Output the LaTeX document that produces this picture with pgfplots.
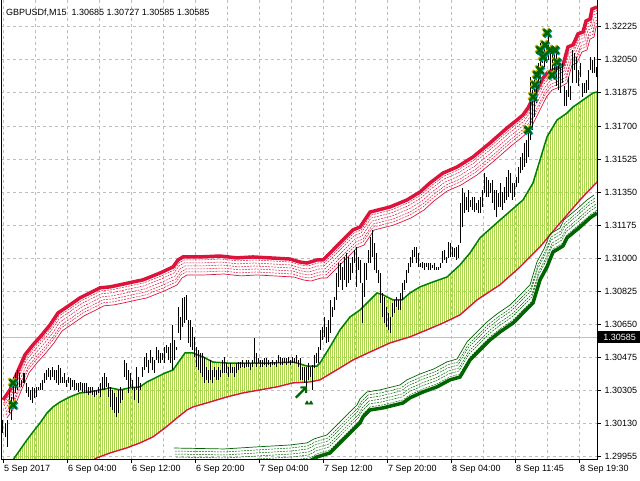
\documentclass[border=0pt]{standalone}
\usepackage{pgfplots}
\pgfplotsset{compat=1.18}
\usepackage{pgfplotstable}
\usetikzlibrary{patterns.meta}
\usepackage{fontspec}
\setmainfont{Liberation Sans}
\newfontfamily\dejavu{DejaVu Sans}
\definecolor{crim}{RGB}{220,20,60}
\definecolor{ygreen}{RGB}{154,205,50}
\definecolor{mgreen}{RGB}{0,128,0}
\definecolor{dgreen}{RGB}{0,100,0}
\definecolor{gridgray}{RGB}{190,190,190}
\definecolor{bidgray}{RGB}{192,192,192}

\pgfplotstableread{
x lo hi
3 1.30080 1.30148
6 1.30059 1.30132
8 1.30006 1.30148
10 1.30185 1.30307
12 1.30148 1.30270
14 1.30217 1.30375
16 1.30291 1.30396
18 1.30307 1.30412
20 1.30323 1.30396
22 1.30323 1.30360
24 1.30344 1.30396
26 1.30291 1.30344
28 1.30270 1.30323
30 1.30254 1.30307
32 1.30238 1.30323
34 1.30265 1.30318
36 1.30270 1.30323
38 1.30307 1.30323
40 1.30307 1.30344
42 1.30307 1.30360
44 1.30344 1.30396
46 1.30360 1.30412
48 1.30375 1.30423
50 1.30360 1.30412
52 1.30375 1.30428
54 1.30360 1.30412
56 1.30344 1.30412
58 1.30334 1.30439
60 1.30344 1.30423
62 1.30344 1.30375
64 1.30344 1.30396
66 1.30323 1.30360
68 1.30344 1.30375
70 1.30307 1.30370
72 1.30323 1.30360
74 1.30307 1.30360
76 1.30307 1.30344
78 1.30296 1.30344
80 1.30307 1.30349
82 1.30296 1.30344
84 1.30291 1.30344
86 1.30291 1.30344
88 1.30281 1.30323
90 1.30291 1.30323
92 1.30281 1.30323
94 1.30270 1.30307
96 1.30281 1.30307
98 1.30291 1.30323
100 1.30270 1.30344
102 1.30307 1.30375
104 1.30307 1.30396
106 1.30323 1.30375
108 1.30270 1.30344
110 1.30217 1.30323
112 1.30201 1.30307
114 1.30185 1.30291
116 1.30164 1.30270
118 1.30185 1.30307
120 1.30238 1.30323
122 1.30254 1.30307
124 1.30375 1.30465
126 1.30360 1.30449
128 1.30291 1.30412
130 1.30323 1.30396
132 1.30307 1.30360
134 1.30254 1.30323
136 1.30307 1.30428
138 1.30238 1.30375
140 1.30307 1.30344
142 1.30375 1.30428
144 1.30412 1.30481
146 1.30428 1.30502
148 1.30396 1.30465
150 1.30449 1.30518
152 1.30412 1.30481
154 1.30396 1.30465
156 1.30465 1.30534
158 1.30449 1.30518
160 1.30449 1.30502
162 1.30465 1.30502
164 1.30449 1.30534
166 1.30502 1.30545
168 1.30465 1.30534
170 1.30449 1.30555
172 1.30412 1.30650
174 1.30465 1.30571
176 1.30518 1.30534
178 1.30608 1.30745
180 1.30571 1.30692
182 1.30639 1.30793
184 1.30660 1.30798
186 1.30676 1.30809
188 1.30555 1.30676
190 1.30534 1.30676
192 1.30518 1.30639
194 1.30481 1.30587
196 1.30428 1.30534
198 1.30412 1.30518
200 1.30396 1.30502
202 1.30375 1.30502
204 1.30344 1.30481
206 1.30360 1.30428
208 1.30344 1.30412
210 1.30360 1.30465
212 1.30344 1.30412
214 1.30375 1.30428
216 1.30360 1.30412
218 1.30360 1.30428
220 1.30375 1.30412
222 1.30396 1.30465
224 1.30396 1.30481
226 1.30396 1.30449
228 1.30375 1.30428
230 1.30396 1.30449
232 1.30396 1.30428
234 1.30375 1.30428
236 1.30396 1.30449
238 1.30412 1.30454
240 1.30423 1.30454
242 1.30428 1.30465
244 1.30423 1.30449
246 1.30428 1.30465
248 1.30428 1.30465
250 1.30412 1.30449
252 1.30428 1.30465
254 1.30449 1.30582
256 1.30428 1.30502
258 1.30449 1.30476
260 1.30428 1.30465
262 1.30428 1.30465
264 1.30439 1.30476
266 1.30428 1.30476
268 1.30439 1.30465
270 1.30428 1.30454
272 1.30439 1.30465
274 1.30439 1.30454
276 1.30428 1.30465
278 1.30449 1.30492
280 1.30439 1.30481
282 1.30439 1.30476
284 1.30449 1.30476
286 1.30439 1.30476
288 1.30449 1.30481
290 1.30439 1.30465
292 1.30449 1.30481
294 1.30449 1.30476
296 1.30449 1.30492
298 1.30428 1.30465
300 1.30360 1.30476
302 1.30360 1.30428
304 1.30344 1.30428
306 1.30323 1.30428
308 1.30360 1.30449
310 1.30375 1.30428
312 1.30307 1.30439
314 1.30423 1.30492
316 1.30449 1.30502
318 1.30449 1.30534
320 1.30518 1.30624
322 1.30571 1.30639
324 1.30587 1.30692
326 1.30555 1.30639
328 1.30560 1.30676
330 1.30608 1.30782
332 1.30692 1.30745
334 1.30729 1.30798
336 1.30782 1.30924
338 1.30851 1.30977
340 1.30888 1.30977
342 1.30835 1.30956
344 1.30888 1.31009
346 1.30851 1.31030
348 1.30872 1.31009
350 1.30888 1.30977
352 1.30924 1.31009
354 1.30977 1.31046
356 1.30851 1.31062
358 1.30940 1.31009
360 1.30872 1.30993
362 1.30660 1.30872
364 1.30798 1.30977
366 1.30888 1.30977
368 1.30977 1.31046
370 1.30977 1.31115
372 1.31009 1.31152
374 1.30940 1.31083
376 1.30924 1.31030
378 1.30872 1.30940
380 1.30766 1.30924
382 1.30692 1.30819
384 1.30660 1.30798
386 1.30639 1.30745
388 1.30624 1.30713
390 1.30608 1.30692
392 1.30692 1.30766
394 1.30713 1.30782
396 1.30745 1.30798
398 1.30729 1.30782
400 1.30729 1.30819
402 1.30782 1.30872
404 1.30835 1.30888
406 1.30872 1.30940
408 1.30924 1.30977
410 1.30956 1.31009
412 1.30977 1.31046
414 1.31009 1.31062
416 1.30977 1.31062
418 1.30956 1.31030
420 1.30956 1.30977
422 1.30951 1.30982
424 1.30940 1.30977
426 1.30956 1.30977
428 1.30940 1.30977
430 1.30940 1.30977
432 1.30951 1.30967
434 1.30940 1.30977
436 1.30940 1.30956
438 1.30940 1.30956
440 1.30951 1.30977
442 1.30977 1.31041
444 1.30993 1.31046
446 1.30977 1.31009
448 1.31004 1.31088
450 1.31009 1.31083
452 1.31009 1.31062
454 1.31009 1.31057
456 1.30993 1.31062
458 1.31004 1.31072
460 1.31083 1.31294
462 1.31167 1.31373
464 1.31241 1.31347
466 1.31257 1.31326
468 1.31246 1.31363
470 1.31273 1.31310
472 1.31257 1.31326
474 1.31246 1.31326
476 1.31257 1.31294
478 1.31241 1.31310
480 1.31241 1.31326
482 1.31273 1.31363
484 1.31347 1.31452
486 1.31326 1.31432
488 1.31326 1.31416
490 1.31347 1.31400
492 1.31294 1.31416
494 1.31257 1.31363
496 1.31220 1.31363
498 1.31273 1.31347
500 1.31273 1.31400
502 1.31257 1.31352
504 1.31294 1.31379
506 1.31310 1.31432
508 1.31326 1.31468
510 1.31347 1.31452
512 1.31310 1.31400
514 1.31326 1.31400
516 1.31379 1.31432
518 1.31400 1.31484
520 1.31452 1.31537
522 1.31468 1.31558
524 1.31484 1.31610
526 1.31505 1.31627
528 1.31537 1.31680
530 1.31627 1.31959
532 1.31680 1.31891
534 1.31748 1.31944
536 1.31822 1.31996
538 1.31891 1.32033
540 1.31928 1.32139
542 1.32033 1.32139
544 1.32012 1.32139
546 1.32033 1.32118
548 1.32049 1.32208
550 1.31996 1.32102
552 1.31980 1.32102
554 1.31959 1.32086
556 1.31912 1.32102
558 1.31891 1.32049
560 1.31875 1.32033
562 1.31928 1.32033
564 1.31806 1.31912
566 1.31806 1.31891
568 1.31854 1.31959
570 1.31838 1.31912
572 1.31928 1.32102
574 1.31996 1.32086
576 1.31928 1.32065
578 1.31912 1.31996
580 1.31959 1.32033
582 1.31854 1.31928
584 1.31875 1.31928
586 1.31875 1.31944
588 1.31891 1.31996
590 1.31996 1.32065
592 1.31980 1.32049
594 1.31980 1.32065
596 1.31959 1.32012
}\bars

\pgfplotstableread{
x y
3 1.30254
10 1.30307
17 1.30396
25 1.30492
33 1.30545
42 1.30598
50 1.30650
58 1.30713
70 1.30756
80 1.30793
90 1.30819
100 1.30846
110 1.30851
120 1.30862
133 1.30877
143 1.30888
160 1.30924
173 1.30956
178 1.30993
183 1.31009
200 1.31009
220 1.31014
237 1.31004
253 1.31009
270 1.31004
290 1.30998
300 1.30982
307 1.30977
317 1.30993
323 1.30993
330 1.31030
340 1.31083
353 1.31152
360 1.31167
370 1.31246
390 1.31273
407 1.31310
420 1.31352
430 1.31400
443 1.31452
457 1.31484
473 1.31537
490 1.31611
507 1.31690
517 1.31732
523 1.31759
528 1.31796
533 1.31849
538 1.31902
543 1.31954
548 1.31985
553 1.31996
558 1.32007
563 1.32023
568 1.32118
573 1.32129
578 1.32187
583 1.32197
586 1.32255
590 1.32265
592 1.32318
597 1.32329
}\upbandtab

\pgfplotstableread{
x y
177 1.29905
227 1.29900
260 1.29911
293 1.29921
310 1.29932
317 1.29953
330 1.29974
343 1.30043
353 1.30096
360 1.30132
363 1.30164
370 1.30201
383 1.30212
403 1.30238
410 1.30265
423 1.30296
437 1.30323
450 1.30360
460 1.30375
470 1.30465
477 1.30502
483 1.30534
490 1.30571
500 1.30613
513 1.30660
523 1.30713
533 1.30766
540 1.30888
547 1.30956
553 1.31035
563 1.31067
567 1.31110
580 1.31167
590 1.31215
597 1.31241
}\lowbandtab

\pgfplotstableread{
x y
13 1.29937
20 1.29990
27 1.30043
33 1.30085
40 1.30132
47 1.30185
53 1.30217
60 1.30243
70 1.30270
80 1.30291
90 1.30296
100 1.30307
110 1.30318
120 1.30307
130 1.30318
140 1.30323
147 1.30349
157 1.30375
165 1.30396
173 1.30412
180 1.30465
185 1.30502
193 1.30502
203 1.30481
213 1.30454
227 1.30449
247 1.30449
270 1.30449
293 1.30454
300 1.30444
307 1.30433
317 1.30433
320 1.30449
330 1.30534
340 1.30624
350 1.30692
360 1.30729
370 1.30782
377 1.30819
383 1.30809
393 1.30782
402 1.30782
410 1.30819
420 1.30851
433 1.30877
447 1.30903
460 1.30967
470 1.31030
480 1.31110
500 1.31204
523 1.31310
533 1.31400
540 1.31521
547 1.31643
557 1.31732
567 1.31769
573 1.31801
583 1.31838
593 1.31875
597 1.31880
}\gmatab

\pgfplotstableread{
x y
13 1.29752
60 1.29847
97 1.29948
110 1.29974
127 1.30001
140 1.30027
153 1.30059
165 1.30106
177 1.30159
187 1.30201
193 1.30217
210 1.30243
227 1.30270
243 1.30291
260 1.30307
277 1.30323
293 1.30344
310 1.30349
320 1.30360
340 1.30423
353 1.30465
370 1.30507
390 1.30555
410 1.30587
427 1.30624
443 1.30660
460 1.30703
477 1.30782
500 1.30862
520 1.30956
540 1.31062
560 1.31188
580 1.31310
597 1.31405
}\rmatab

% band between the two averages: upper edge left to right, lower edge right to left
\pgfplotstableread{
x y
13 1.29937
20 1.29990
27 1.30043
33 1.30085
40 1.30132
47 1.30185
53 1.30217
60 1.30243
70 1.30270
80 1.30291
90 1.30296
100 1.30307
110 1.30318
120 1.30307
130 1.30318
140 1.30323
147 1.30349
157 1.30375
165 1.30396
173 1.30412
180 1.30465
185 1.30502
193 1.30502
203 1.30481
213 1.30454
227 1.30449
247 1.30449
270 1.30449
293 1.30454
300 1.30444
307 1.30433
317 1.30433
320 1.30449
330 1.30534
340 1.30624
350 1.30692
360 1.30729
370 1.30782
377 1.30819
383 1.30809
393 1.30782
402 1.30782
410 1.30819
420 1.30851
433 1.30877
447 1.30903
460 1.30967
470 1.31030
480 1.31110
500 1.31204
523 1.31310
533 1.31400
540 1.31521
547 1.31643
557 1.31732
567 1.31769
573 1.31801
583 1.31838
593 1.31875
597 1.31880
597 1.31405
580 1.31310
560 1.31188
540 1.31062
520 1.30956
500 1.30862
477 1.30782
460 1.30703
443 1.30660
427 1.30624
410 1.30587
390 1.30555
370 1.30507
353 1.30465
340 1.30423
320 1.30360
310 1.30349
293 1.30344
277 1.30323
260 1.30307
243 1.30291
227 1.30270
210 1.30243
193 1.30217
187 1.30201
177 1.30159
165 1.30106
153 1.30059
140 1.30027
127 1.30001
110 1.29974
97 1.29948
60 1.29847
13 1.29752
}\polytab

\pgfplotstableread{
x y
13 1.30344
13 1.30228
528 1.31680
533 1.31854
535 1.31918
537 1.31970
540 1.31996
543 1.32065
540 1.32102
545 1.32129
547 1.32192
550 1.32102
552 1.31970
555 1.32102
557 1.32038
}\xmarkstab

\begin{document}
\begin{tikzpicture}
\useasboundingbox (0,0) rectangle (640pt,-480pt);
\begin{axis}[
  name=ax,
  at={(1pt,0pt)}, anchor=north west,
  scale only axis, width=596pt, height=459pt,
  xmin=1, xmax=597, ymin=1.29942, ymax=1.32366,
  axis line style={draw=none},
  tick align=outside,
  major tick length=4pt,
  minor tick length=0pt,
  tick style={black, line width=0.8pt},
  xtick pos=bottom, ytick pos=right,
  yticklabel pos=right,
  xtick={3,67,131,195,259,323,387,451,515,579},
  xticklabels={5 Sep 2017,6 Sep 04:00,6 Sep 12:00,6 Sep 20:00,7 Sep 04:00,7 Sep 12:00,7 Sep 20:00,8 Sep 04:00,8 Sep 11:45,8 Sep 19:30},
  minor xtick={35,99,163,227,291,355,419,483,547},
  ytick={1.32225,1.32050,1.31876,1.31701,1.31526,1.31352,1.31177,1.31002,1.30828,1.30653,1.30478,1.30304,1.30129,1.29954},
  yticklabels={\mbox{1.32225},\mbox{1.32050},\mbox{1.31875},\mbox{1.31700},\mbox{1.31525},\mbox{1.31350},\mbox{1.31175},\mbox{1.31000},\mbox{1.30825},\mbox{1.30650},\mbox{1.30475},\mbox{1.30305},\mbox{1.30130},\mbox{1.29955}},
  ticklabel style={font=\fontsize{9}{10}\selectfont, text=black},
  xticklabel style={anchor=north west, xshift=-2.5pt, yshift=1pt},
  yticklabel style={anchor=west, xshift=0pt},
  grid=both,
  major grid style={gridgray, line width=0.8pt, dash pattern=on 3pt off 3pt},
  minor grid style={gridgray, line width=0.8pt, dash pattern=on 3pt off 3pt},
]
% bid line
\addplot[bidgray, line width=1pt] coordinates {(1,1.30585) (597,1.30585)};
% MA band hatching
\addplot[draw=none, pattern={Lines[angle=90,distance=2pt,line width=0.35pt]}, pattern color=ygreen!85!white] table[x=x,y=y] {\polytab};
\addplot[crim, line width=1.4pt] table[x=x,y=y] {\rmatab};
\addplot[mgreen, line width=1.5pt] table[x=x,y=y] {\gmatab};
% upper band
\addplot[crim, line width=0.7pt, yshift=-18pt, xshift=4pt] table[x=x,y=y] {\upbandtab};
\addplot[crim, line width=0.5pt, dash pattern=on 2pt off 1pt, yshift=-15pt, xshift=3pt] table[x=x,y=y] {\upbandtab};
\addplot[crim, line width=0.5pt, dash pattern=on 2pt off 1pt, yshift=-12pt, xshift=3pt] table[x=x,y=y] {\upbandtab};
\addplot[crim, line width=0.5pt, dash pattern=on 2pt off 1pt, yshift=-9pt, xshift=2pt] table[x=x,y=y] {\upbandtab};
\addplot[crim, line width=0.5pt, dash pattern=on 2pt off 1pt, yshift=-6pt, xshift=1pt] table[x=x,y=y] {\upbandtab};
\addplot[crim, line width=0.5pt, dash pattern=on 2pt off 1pt, yshift=-3pt, xshift=1pt] table[x=x,y=y] {\upbandtab};
\addplot[crim, line width=3.5pt] table[x=x,y=y] {\upbandtab};
% lower band
\addplot[dgreen, line width=0.7pt, yshift=18pt, xshift=-3pt] table[x=x,y=y] {\lowbandtab};
\addplot[dgreen, line width=0.5pt, dash pattern=on 2pt off 1pt, yshift=15pt, xshift=-2pt] table[x=x,y=y] {\lowbandtab};
\addplot[dgreen, line width=0.5pt, dash pattern=on 2pt off 1pt, yshift=12pt, xshift=-2pt] table[x=x,y=y] {\lowbandtab};
\addplot[dgreen, line width=0.5pt, dash pattern=on 2pt off 1pt, yshift=9pt, xshift=-1pt] table[x=x,y=y] {\lowbandtab};
\addplot[dgreen, line width=0.5pt, dash pattern=on 2pt off 1pt, yshift=6pt, xshift=-1pt] table[x=x,y=y] {\lowbandtab};
\addplot[dgreen, line width=0.5pt, dash pattern=on 2pt off 1pt, yshift=3pt] table[x=x,y=y] {\lowbandtab};
\addplot[dgreen, line width=3.5pt] table[x=x,y=y] {\lowbandtab};
% price bars
\addplot[draw=none, mark=none, error bars/.cd, y dir=plus, y explicit, error mark=none,
  error bar style={draw=black, line width=1pt}]
  table[x=x, y=lo, y error plus expr=\thisrow{hi}-\thisrow{lo}] {\bars};
% markers
\addplot[only marks, mark=x, mark size=5pt, mark options={line width=2.5pt, draw={rgb,255:red,200;green,180;blue,0}}, xshift=-1pt, yshift=1pt] table[x=x,y=y] {\xmarkstab};
\addplot[only marks, mark=x, mark size=5pt, mark options={line width=2.5pt, draw={rgb,255:red,0;green,150;blue,170}}, xshift=1pt, yshift=-1pt] table[x=x,y=y] {\xmarkstab};
\addplot[only marks, mark=x, mark size=5pt, mark options={line width=2.5pt, draw=dgreen}] table[x=x,y=y] {\xmarkstab};
\addplot[only marks, mark=text, text mark={\color{dgreen}\fontsize{21}{21}\selectfont\dejavu\bfseries ↗}] coordinates {(301,1.30286)};
\addplot[only marks, mark=triangle*, mark size=2.2pt, mark options={fill=dgreen, draw=dgreen}] coordinates {(307,1.30238) (311,1.30238)};
\coordinate (pl) at (axis cs:597,1.30585);
\end{axis}
\draw[black, line width=1pt] (ax.north west) -- (ax.south west) -- (ax.south east) -- (ax.north east);
\node[fill=black, text=white, anchor=west, inner xsep=5pt, inner ysep=0pt, minimum height=12pt, minimum width=43pt, font=\fontsize{9}{10}\selectfont] at ([xshift=1pt]pl) {1.30585};
\node[anchor=base west, inner sep=0pt, font=\fontsize{9}{10}\selectfont] at (6pt,-15pt) {GBPUSDf,M15\ \ 1.30685 1.30727 1.30585 1.30585};
\end{tikzpicture}
\end{document}
